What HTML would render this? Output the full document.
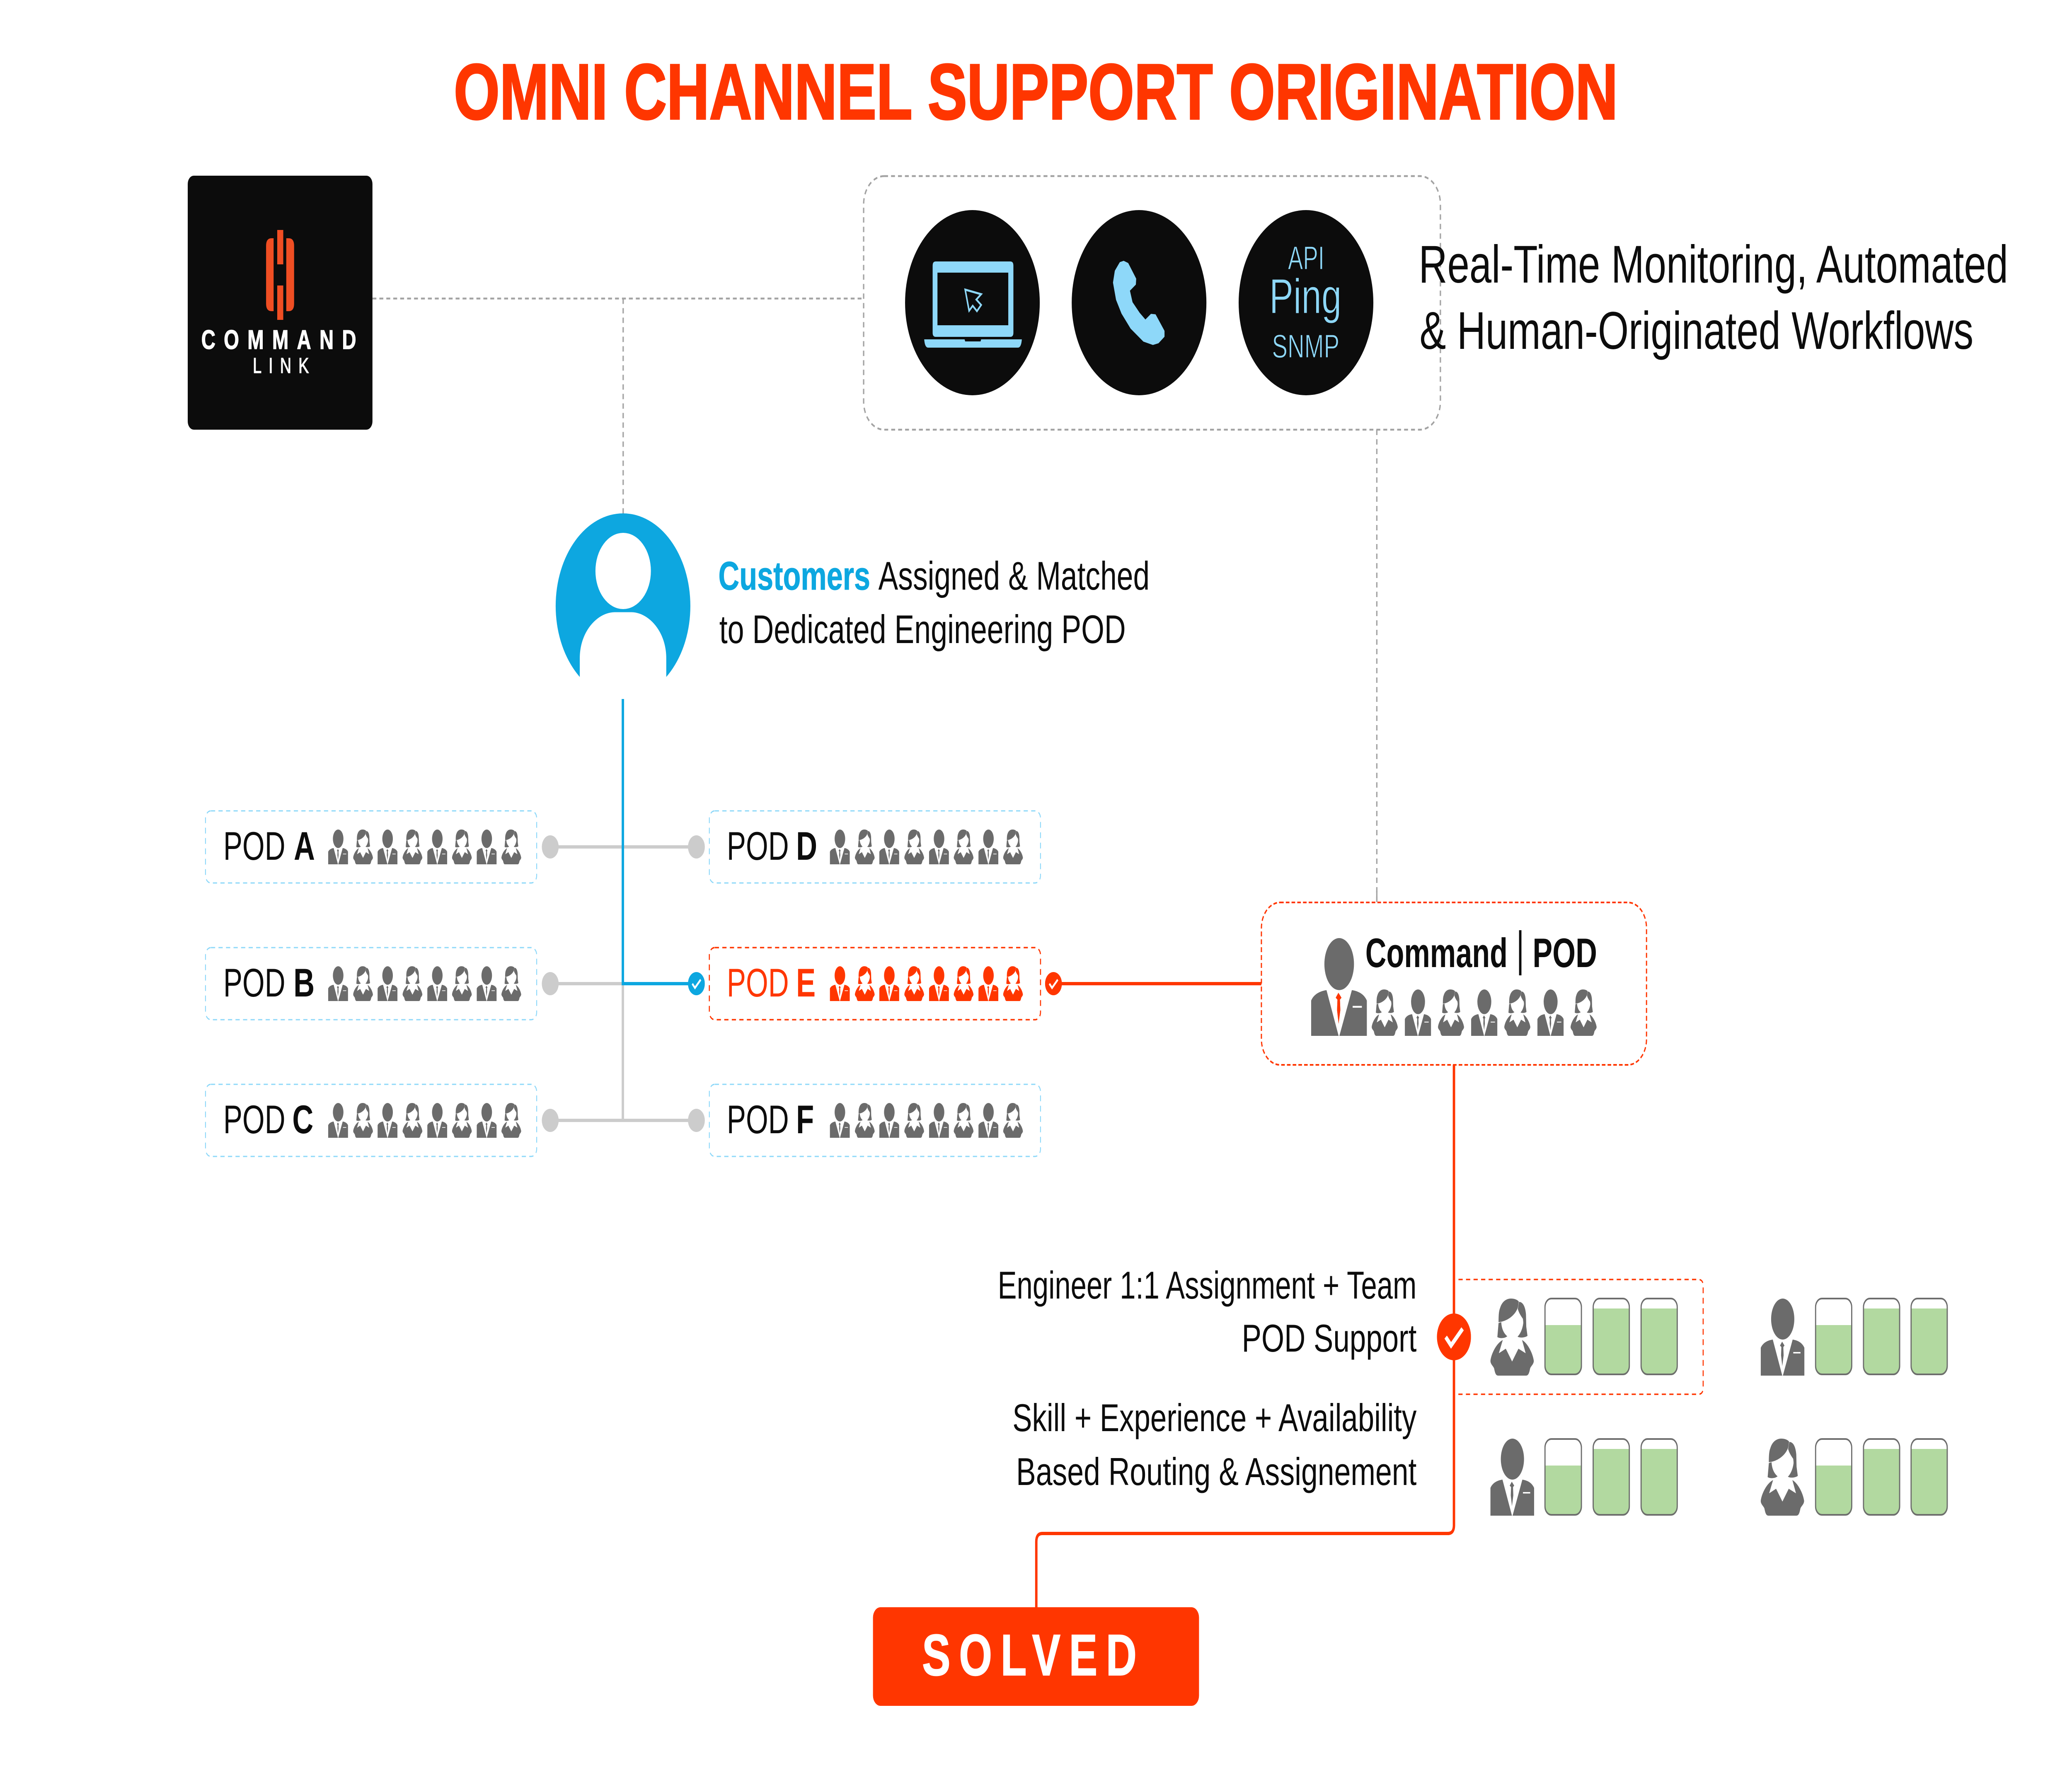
<!DOCTYPE html>
<html><head><meta charset="utf-8"><style>
html,body{margin:0;padding:0;background:#fff;width:100%;height:100%;overflow:hidden}
svg{display:block;position:absolute;left:0;top:0;width:100vw;height:100vh;overflow:hidden}
text{font-family:"Liberation Sans",sans-serif;fill:#0c0c0c}
.b{font-weight:700}
</style></head><body>
<svg viewBox="0 0 6876 4267" preserveAspectRatio="none" xmlns="http://www.w3.org/2000/svg">
<defs>
<symbol id="m" viewBox="0 0 145 186" preserveAspectRatio="none">
<ellipse cx="73" cy="49.500" rx="38.500" ry="49.500"/>
<path d="M40 99C22 101 7 107 0 119V186H71.500Z"/>
<path d="M106 99C124 101 138 107 145 119V186H73.500Z"/>
<path class="t" d="M71 104L79 113.500L75 117L76 137L71.500 163L67.500 137L68.500 117L64 113.500Z"/>
<rect x="108" y="129" width="24" height="3.500" fill="#fff"/>
</symbol>
<symbol id="tie" viewBox="0 0 145 186" preserveAspectRatio="none">
<path d="M71 104L79 113.500L75 117L76 137L71.500 163L67.500 137L68.500 117L64 113.500Z"/>
</symbol>
<symbol id="f" viewBox="0 0 145 186" preserveAspectRatio="none">
<path d="M41 100C22 107 4 130 0 150C0 158 8 162 12 168C15 178 17 186 26 186H118C127 186 129 178 132 168C136 162 144 158 144 150C140 130 122 107 105 100L117 132L93 121L72 152L51 121L28 132Z"/>
<path d="M27 57C27 40 28 30 32 23C38 8 52 0 68 0C78 0 88 2 94 7C93 15 92 22 88 27C78 42 55 55 27 57Z"/>
<path d="M95 8C108 8 116 20 118 38L119 68L123 90C116 94 100 96 90 92C100 85 107 72 109 59C109 54 108 52 108 49C102 43 94 34 91 25Z"/>
<path d="M27 59L36 57C37 72 44 84 56 91C48 96 32 97 23 93Z"/>
</symbol>
<symbol id="chk" viewBox="-56.500 -56.500 113 113" preserveAspectRatio="none">
<circle r="56.500"/>
<polyline points="-27.400,0.500 -9.600,20.500 28.700,-19.500" fill="none" stroke="#fff" stroke-width="11"/>
</symbol>
<clipPath id="bc"><rect width="124" height="187" rx="22"/></clipPath>
<symbol id="b1" viewBox="0 0 124 187" preserveAspectRatio="none">
<g clip-path="url(#bc)"><rect y="66" width="124" height="121" fill="#b2d9a0"/></g>
<rect x="2" y="2" width="120" height="183" rx="21" fill="none" stroke="#6d6d6d" stroke-width="4"/>
</symbol>
<symbol id="b2" viewBox="0 0 124 187" preserveAspectRatio="none">
<g clip-path="url(#bc)"><rect y="26" width="124" height="161" fill="#b2d9a0"/></g>
<rect x="2" y="2" width="120" height="183" rx="21" fill="none" stroke="#6d6d6d" stroke-width="4"/>
</symbol>
</defs>

<text x="1506" y="287" font-size="190" class="b" textLength="3863" lengthAdjust="spacingAndGlyphs" style="fill:#ff3600;stroke:#ff3600;stroke-width:4">OMNI CHANNEL SUPPORT ORIGINATION</text>

<!-- gray connectors -->
<g fill="none" stroke="#a3a3a3" stroke-width="4.500" stroke-dasharray="13 10">
<path d="M1236 720.500H2866"/>
<path d="M2068 720.500V1240"/>
<path d="M4569 1037V2178"/>
<rect x="2866" y="425" width="1914" height="612" rx="68"/>
</g>

<!-- logo -->
<rect x="623" y="424" width="613" height="613" rx="20" fill="#0c0c0c"/>
<g fill="#f04e23">
<path d="M908 575H901Q883 575 883 593V733Q883 751 901 751H908Z"/>
<path d="M950 575H958Q976 575 976 593V733Q976 751 958 751H950Z"/>
<rect x="920" y="555" width="20" height="83"/>
<rect x="920" y="689" width="20" height="83"/>
</g>
<text x="668" y="842" font-size="65" class="b" textLength="514" lengthAdjust="spacing" style="fill:#fff;stroke:#fff;stroke-width:1.500">COMMAND</text>
<text x="839" y="900" font-size="52" textLength="186" lengthAdjust="spacing" style="fill:#fff;stroke:#fff;stroke-width:1.500">LINK</text>

<!-- channels -->
<g fill="#0c0c0c">
<circle cx="3227" cy="730.500" r="223.500"/>
<circle cx="3780" cy="730.500" r="223.500"/>
<circle cx="4334" cy="730.500" r="223.500"/>
</g>
<g fill="#8ed8f9">
<path fill-rule="evenodd" d="M3105 631H3353Q3363 631 3363 641V803Q3363 813 3353 813H3105Q3095 813 3095 803V641Q3095 631 3105 631ZM3111 658V785H3346V658Z"/>
<path d="M3067 819H3201L3203 824H3254L3256 819H3391Q3389 839 3378 839H3080Q3069 839 3067 819Z"/>
<path d="M3729 631L3743 636L3769 673L3768 686L3748 701L3757 730L3781 756L3801 773L3820 759L3834 760L3863 799L3863 812L3844 827L3826 831L3795 823L3753 792L3723 756L3705 723L3695 682L3701 654L3717 634Z" stroke="#8ed8f9" stroke-width="3" stroke-linejoin="round"/>
</g>
<polygon points="3203,699 3256,710 3240,723 3256,736 3242,751 3228,738 3216,750" fill="none" stroke="#8ed8f9" stroke-width="5"/>
<g style="stroke:#0c0c0c;stroke-width:1.500">
<text x="4274" y="650" font-size="80" textLength="121" lengthAdjust="spacingAndGlyphs" style="fill:#8ed8f9">API</text>
<text x="4212" y="756" font-size="119" textLength="240" lengthAdjust="spacingAndGlyphs" style="fill:#8ed8f9">Ping</text>
<text x="4221" y="863" font-size="80" textLength="224" lengthAdjust="spacingAndGlyphs" style="fill:#8ed8f9">SNMP</text>
</g>

<text x="4708" y="682" font-size="128" textLength="1956" lengthAdjust="spacingAndGlyphs">Real-Time Monitoring, Automated</text>
<text x="4711" y="842" font-size="128" textLength="1838" lengthAdjust="spacingAndGlyphs">&amp; Human-Originated Workflows</text>

<!-- customer -->
<circle cx="2067.500" cy="1462.500" r="223.500" fill="#0da7e0"/>
<path d="M1924 1700V1589C1924 1522 1985 1477.500 2040 1477.500H2095C2150 1477.500 2211 1522 2211 1589V1700Z" fill="#fff"/>
<circle cx="2068" cy="1378" r="92" fill="#fff"/>
<text x="2384" y="1423" font-size="97" class="b" textLength="504" lengthAdjust="spacingAndGlyphs" style="fill:#0da7e0;stroke:#0da7e0;stroke-width:1">Customers</text>
<text x="2915" y="1423" font-size="97" textLength="900" lengthAdjust="spacingAndGlyphs">Assigned &amp; Matched</text>
<text x="2387" y="1552" font-size="97" textLength="1349" lengthAdjust="spacingAndGlyphs">to Dedicated Engineering POD</text>

<!-- pod connectors -->
<g stroke="#ccc" stroke-width="8" fill="none">
<path d="M1826 2044H2311"/><path d="M1826 2374H2067"/><path d="M1826 2704H2311"/>
<path d="M2067 2044V2704"/>
</g>
<path d="M2067 1687V2374H2311" fill="none" stroke="#0da7e0" stroke-width="8"/>
<g fill="#ccc">
<circle cx="1826" cy="2044" r="28"/><circle cx="1826" cy="2374" r="28"/><circle cx="1826" cy="2704" r="28"/>
<circle cx="2311" cy="2044" r="28"/><circle cx="2311" cy="2704" r="28"/>
</g>
<use href="#chk" x="2283" y="2346" width="56" height="56" fill="#0da7e0"/>
<path d="M3496 2374H4186" stroke="#ff3600" stroke-width="8"/>
<use href="#chk" x="3468" y="2346" width="56" height="56" fill="#ff3600"/>

<!-- pod boxes -->
<g fill="#fff" stroke="#8ed8f9" stroke-width="3" stroke-dasharray="14 11">
<rect x="682" y="1957" width="1099" height="174" rx="18"/>
<rect x="682" y="2287" width="1099" height="174" rx="18"/>
<rect x="682" y="2617" width="1099" height="174" rx="18"/>
<rect x="2354" y="1957" width="1099" height="174" rx="18"/>
<rect x="2354" y="2617" width="1099" height="174" rx="18"/>
</g>
<rect x="2354" y="2287" width="1099" height="174" rx="18" fill="#fff" stroke="#ff3600" stroke-width="3.500" stroke-dasharray="14 11"/>

<g font-size="97">
<text x="741" y="2075" textLength="206" lengthAdjust="spacingAndGlyphs">POD</text><text x="975" y="2075" class="b">A</text>
<text x="741" y="2405" textLength="206" lengthAdjust="spacingAndGlyphs">POD</text><text x="974" y="2405" class="b">B</text>
<text x="741" y="2735" textLength="206" lengthAdjust="spacingAndGlyphs">POD</text><text x="970" y="2735" class="b">C</text>
<text x="2412" y="2075" textLength="206" lengthAdjust="spacingAndGlyphs">POD</text><text x="2642" y="2075" class="b">D</text>
<text x="2412" y="2405" textLength="206" lengthAdjust="spacingAndGlyphs" style="fill:#ff3600">POD</text><text x="2642" y="2405" class="b" style="fill:#ff3600">E</text>
<text x="2412" y="2735" textLength="206" lengthAdjust="spacingAndGlyphs">POD</text><text x="2642" y="2735" class="b">F</text>
</g>

<!-- POD people -->
<g fill="#6b6b6b">
<use href="#m" x="1089" y="2002" width="66" height="84"/><use href="#f" x="1172" y="2002" width="66" height="84"/><use href="#m" x="1253" y="2002" width="66" height="84"/><use href="#f" x="1336" y="2002" width="66" height="84"/><use href="#m" x="1418" y="2002" width="66" height="84"/><use href="#f" x="1500" y="2002" width="66" height="84"/><use href="#m" x="1582" y="2002" width="66" height="84"/><use href="#f" x="1664" y="2002" width="66" height="84"/>
<use href="#m" x="1089" y="2332" width="66" height="84"/><use href="#f" x="1172" y="2332" width="66" height="84"/><use href="#m" x="1253" y="2332" width="66" height="84"/><use href="#f" x="1336" y="2332" width="66" height="84"/><use href="#m" x="1418" y="2332" width="66" height="84"/><use href="#f" x="1500" y="2332" width="66" height="84"/><use href="#m" x="1582" y="2332" width="66" height="84"/><use href="#f" x="1664" y="2332" width="66" height="84"/>
<use href="#m" x="1089" y="2662" width="66" height="84"/><use href="#f" x="1172" y="2662" width="66" height="84"/><use href="#m" x="1253" y="2662" width="66" height="84"/><use href="#f" x="1336" y="2662" width="66" height="84"/><use href="#m" x="1418" y="2662" width="66" height="84"/><use href="#f" x="1500" y="2662" width="66" height="84"/><use href="#m" x="1582" y="2662" width="66" height="84"/><use href="#f" x="1664" y="2662" width="66" height="84"/>
<use href="#m" x="2754" y="2002" width="66" height="84"/><use href="#f" x="2837" y="2002" width="66" height="84"/><use href="#m" x="2918" y="2002" width="66" height="84"/><use href="#f" x="3001" y="2002" width="66" height="84"/><use href="#m" x="3083" y="2002" width="66" height="84"/><use href="#f" x="3165" y="2002" width="66" height="84"/><use href="#m" x="3247" y="2002" width="66" height="84"/><use href="#f" x="3329" y="2002" width="66" height="84"/>
<use href="#m" x="2754" y="2662" width="66" height="84"/><use href="#f" x="2837" y="2662" width="66" height="84"/><use href="#m" x="2918" y="2662" width="66" height="84"/><use href="#f" x="3001" y="2662" width="66" height="84"/><use href="#m" x="3083" y="2662" width="66" height="84"/><use href="#f" x="3165" y="2662" width="66" height="84"/><use href="#m" x="3247" y="2662" width="66" height="84"/><use href="#f" x="3329" y="2662" width="66" height="84"/>
</g>
<g fill="#ff3600">
<use href="#m" x="2754" y="2332" width="66" height="84"/><use href="#f" x="2837" y="2332" width="66" height="84"/><use href="#m" x="2918" y="2332" width="66" height="84"/><use href="#f" x="3001" y="2332" width="66" height="84"/><use href="#m" x="3083" y="2332" width="66" height="84"/><use href="#f" x="3165" y="2332" width="66" height="84"/><use href="#m" x="3247" y="2332" width="66" height="84"/><use href="#f" x="3329" y="2332" width="66" height="84"/>
</g>

<!-- command pod -->
<rect x="4186" y="2178" width="1278" height="392" rx="62" fill="#fff" stroke="#ff3600" stroke-width="4" stroke-dasharray="12 7"/>
<path d="M4569 2150V2176" stroke="#a3a3a3" stroke-width="4.500"/>
<text x="4531" y="2334" font-size="99" class="b" textLength="472" lengthAdjust="spacingAndGlyphs">Command</text>
<rect x="5041" y="2245" width="8" height="109" fill="#0c0c0c"/>
<text x="5086" y="2334" font-size="99" class="b" textLength="214" lengthAdjust="spacingAndGlyphs">POD</text>
<g fill="#6b6b6b">
<use href="#m" x="4351" y="2264" width="185" height="236"/>
<use href="#f" x="4552" y="2388" width="87" height="112"/><use href="#m" x="4662" y="2388" width="87" height="112"/><use href="#f" x="4772" y="2388" width="87" height="112"/><use href="#m" x="4882" y="2388" width="87" height="112"/><use href="#f" x="4992" y="2388" width="87" height="112"/><use href="#m" x="5102" y="2388" width="87" height="112"/><use href="#f" x="5212" y="2388" width="87" height="112"/>
</g>
<use href="#tie" x="4351" y="2264" width="185" height="236" fill="#ff3600"/>

<!-- red path -->
<path d="M4825 2570V3681Q4825 3701 4805 3701H3459Q3439 3701 3439 3721V3880" fill="none" stroke="#ff3600" stroke-width="8"/>
<path d="M4840 3088H5636Q5652 3088 5652 3104V3349Q5652 3365 5636 3365H4829" fill="none" stroke="#ff3600" stroke-width="3.500" stroke-dasharray="14 11"/>
<use href="#chk" x="4768.500" y="3170" width="113" height="113" fill="#ff3600"/>

<!-- engineers -->
<g fill="#6b6b6b">
<use href="#f" x="4946" y="3134" width="145" height="186"/>
<use href="#m" x="4946" y="3472" width="145" height="186"/>
<use href="#m" x="5843" y="3134" width="145" height="186"/>
<use href="#f" x="5843" y="3472" width="145" height="186"/>
</g>
<use href="#b1" x="5125" y="3132" width="125" height="187"/><use href="#b2" x="5285" y="3132" width="124" height="187"/><use href="#b2" x="5444" y="3132" width="124" height="187"/>
<use href="#b1" x="5125" y="3471" width="125" height="187"/><use href="#b2" x="5285" y="3471" width="124" height="187"/><use href="#b2" x="5444" y="3471" width="124" height="187"/>
<use href="#b1" x="6023" y="3132" width="124" height="187"/><use href="#b2" x="6182" y="3132" width="124" height="187"/><use href="#b2" x="6340" y="3132" width="124" height="187"/>
<use href="#b1" x="6023" y="3471" width="124" height="187"/><use href="#b2" x="6182" y="3471" width="124" height="187"/><use href="#b2" x="6340" y="3471" width="124" height="187"/>

<g font-size="94">
<text x="3311" y="3134" textLength="1390" lengthAdjust="spacingAndGlyphs">Engineer 1:1 Assignment + Team</text>
<text x="4121" y="3262" textLength="580" lengthAdjust="spacingAndGlyphs">POD Support</text>
<text x="3360" y="3454" textLength="1341" lengthAdjust="spacingAndGlyphs">Skill + Experience + Availability</text>
<text x="3372" y="3584" textLength="1329" lengthAdjust="spacingAndGlyphs">Based Routing &amp; Assignement</text>
</g>

<!-- solved -->
<rect x="2897" y="3879" width="1082" height="238" rx="25" fill="#ff3600"/>
<text x="3060" y="4043" font-size="141" class="b" textLength="712" lengthAdjust="spacing" style="fill:#fff;stroke:#fff;stroke-width:2">SOLVED</text>
</svg>
</body></html>
